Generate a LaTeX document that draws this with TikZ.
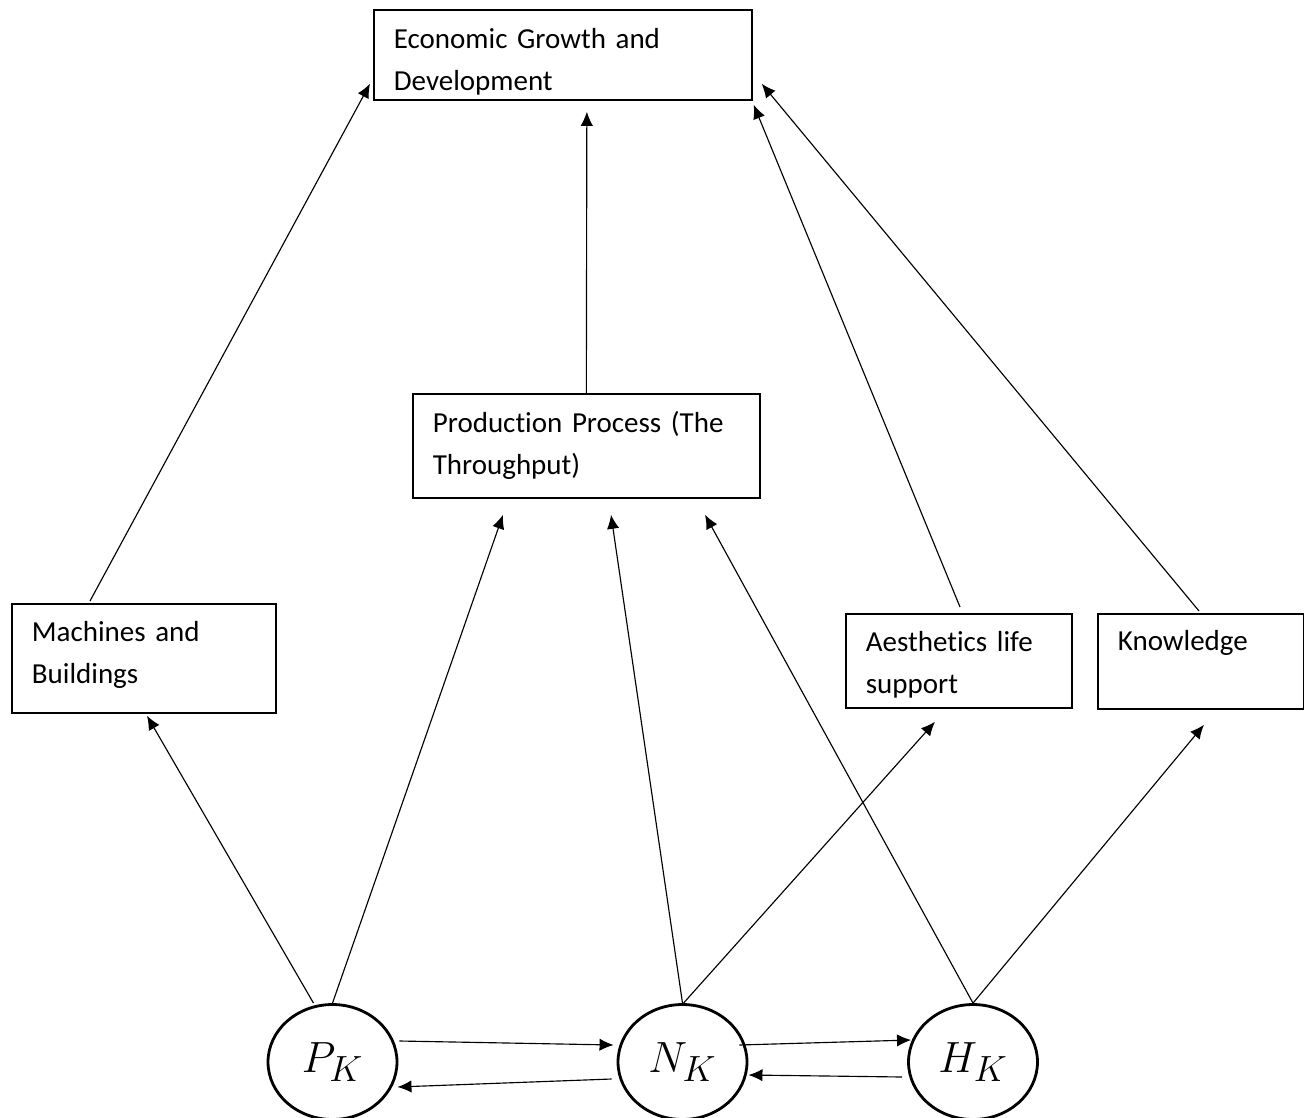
\documentclass[tikz,border=0pt]{standalone}
\usepackage{fontspec}
\setmainfont{Carlito}[Ligatures={NoCommon}]
\usetikzlibrary{shapes.geometric,calc,arrows.meta}

\begin{document}
\begin{tikzpicture}[x=0.02cm,y=-0.02cm,>={Latex[length=8pt,width=7pt]}]
        \tikzset{
            box/.style={draw, line width=1pt, anchor=north west, align=left, inner xsep=0.4cm, inner ysep=0pt, font=\fontsize{16.5}{23.9}\selectfont},
            capital/.style={draw, ellipse, line width=1.6pt, minimum width=2.58cm, minimum height=2.3cm, inner sep=0pt, font=\fontsize{28}{32}\selectfont},
            arrow/.style={->, line width=0.65pt}
        }
        \useasboundingbox (0,0) rectangle (1304,1118);
        \clip (0,0) rectangle (1304,1118);

        \node[box, text width=6.76cm, minimum height=1.8cm] (econ) at (373,9) {\rule{0pt}{19pt}Economic Growth and\\Development};
        \node[box, text width=6.14cm, minimum height=2.08cm] (prod) at (412,393) {Production Process (The\\Throughput)};
        \node[box, text width=4.48cm, minimum height=2.18cm] (mach) at (11,603) {Machines and\\Buildings\rule[-7pt]{0pt}{0pt}};
        \node[box, text width=3.72cm, minimum height=1.88cm] (aest) at (845,613) {\rule{0pt}{16pt}Aesthetics life\\support};
        \node[box, text width=3.32cm, minimum height=1.9cm] (know) at (1097,613) {\rule{0pt}{19pt}Knowledge\\\strut};

        \node[capital] (pk) at (332.5,1062) {$P_K$};
        \node[capital] (nk) at (682.5,1062) {$N_K$};
        \node[capital] (hk) at (973,1062) {$H_K$};

        % up to the boxes
        \draw[arrow] ($(pk.north)+(-19,0)$) -- ($(mach.south west)+(136,2)$);
        \draw[arrow] (pk.north) -- ($(prod.south west)+(91,16)$);
        \draw[arrow] (nk.north) -- ($(prod.south west)+(199,16)$);
        \draw[arrow] ($(nk.north)+(1,0)$) -- ($(aest.south west)+(90,13)$);
        \draw[arrow] (hk.north) -- ($(prod.south west)+(293,16)$);
        \draw[arrow] (hk.north) -- ($(know.south west)+(107,15)$);

        % into growth
        \draw[arrow] ($(mach.north west)+(79,-2)$) -- ($(econ.south west)+(-3,-17)$);
        \draw[arrow] (prod.north) -- ($(econ.south)+(24,11)$);
        \draw[arrow] ($(aest.north west)+(115,-6)$) -- ($(econ.south east)+(1,4)$);
        \draw[arrow] ($(know.north west)+(102,-2)$) -- ($(econ.south east)+(9,-17)$);

        % between the capitals
        \draw[arrow] ($(pk.east)+(1,-21)$) -- ($(nk.west)+(-3,-17)$);
        \draw[arrow] ($(nk.west)+(-5,17)$) -- ($(pk.east)+(-1,25)$);
        \draw[arrow] ($(nk.east)+(-9,-17)$) -- ($(hk.west)+(4,-22)$);
        \draw[arrow] ($(hk.west)+(-5,15)$) -- ($(nk.east)+(0,13)$);
\end{tikzpicture}
\end{document}
